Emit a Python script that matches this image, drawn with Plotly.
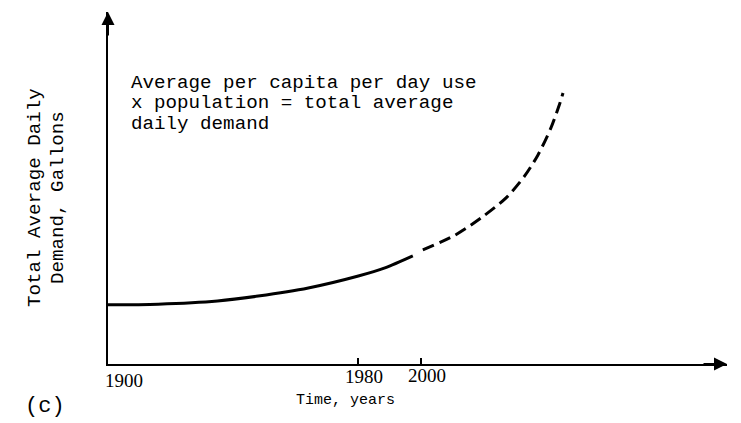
import plotly.graph_objects as go

# ---- data (schematic curve, arbitrary demand units) ----
solid_years = [1900, 1916, 1935, 1948, 1964, 1980, 1988.5, 1997.4]
solid_vals = [16.8, 17.0, 17.9, 19.3, 21.6, 25.0, 27.3, 30.7]
dashed_years = [2000.6, 2010.9, 2019.2, 2027.2, 2033.2, 2037.4, 2041.5, 2044.4, 2045.4]
dashed_vals = [32.4, 36.6, 41.5, 47.2, 53.5, 59.4, 67.0, 74.1, 77.0]
tick_years = [1900, 1980, 2000]
tick_labels = ["1900", "1980", "2000"]

W, H = 741, 423
L, R, T, B = 100, 22, 4, 67
X0, X1 = 1900, 2097.8
Y0, Y1 = 0, 100


def px_x(px):
    return (px - L) / (W - L - R)


def px_y(py):
    return (H - B - py) / (H - T - B)


MONO = "Liberation Mono, Courier New, monospace"
SERIF = "Liberation Serif, Times New Roman, serif"

fig = go.Figure()
fig.add_trace(go.Scatter(x=solid_years, y=solid_vals, mode="lines",
                         line=dict(color="black", width=3, shape="spline", smoothing=0.8),
                         showlegend=False, hoverinfo="skip"))
fig.add_trace(go.Scatter(x=dashed_years, y=dashed_vals, mode="lines",
                         line=dict(color="black", width=3, shape="spline", smoothing=0.8,
                                   dash="12px,6px"),
                         showlegend=False, hoverinfo="skip"))

ann = []
# text block
for i, line in enumerate(["Average per capita per day use",
                          "x population = total average",
                          "daily demand"]):
    ann.append(dict(xref="paper", yref="paper", x=px_x(122), y=px_y(75 + 20.5 * i),
                    xanchor="left", yanchor="middle", showarrow=False, text=line,
                    borderpad=0, font=dict(family=MONO, size=19.2, color="black")))
# y labels
for cx, line in [(27, "Total Average Daily"), (50, "Demand, Gallons")]:
    ann.append(dict(xref="paper", yref="paper", x=px_x(cx), y=px_y(190),
                    xanchor="center", yanchor="middle", showarrow=False, text=line,
                    textangle=-90, font=dict(family=MONO, size=19.2, color="black")))
# tick labels (placed under their ticks, slightly right as in the original)
for yr, lab, dx, cy in zip(tick_years, tick_labels, [16, 6, 6], [372, 368, 367]):
    ann.append(dict(xref="x", yref="paper", x=yr, y=px_y(cy), xshift=dx,
                    xanchor="center", yanchor="middle", showarrow=False, text=lab,
                    font=dict(family=SERIF, size=19, color="black")))
# x title
ann.append(dict(xref="paper", yref="paper", x=px_x(337), y=px_y(392),
                xanchor="center", yanchor="middle", showarrow=False, text="Time, years",
                font=dict(family=MONO, size=15, color="black")))
# (c)
ann.append(dict(xref="paper", yref="paper", x=px_x(37), y=px_y(398),
                xanchor="center", yanchor="middle", showarrow=False, text="(c)",
                font=dict(family=MONO, size=22, color="black")))
# arrowheads
ann.append(dict(xref="x", yref="y", x=X1, y=Y0, ax=-25, ay=0, text="", showarrow=True,
                arrowhead=2, arrowsize=1.3, arrowwidth=2, arrowcolor="black"))
ann.append(dict(xref="x", yref="y", x=X0, y=Y1, ax=0, ay=25, text="", showarrow=True,
                arrowhead=2, arrowsize=1.3, arrowwidth=2, arrowcolor="black"))

fig.update_layout(
    width=W, height=H,
    margin=dict(l=L, r=R, t=T, b=B),
    paper_bgcolor="white", plot_bgcolor="white",
    annotations=ann,
    xaxis=dict(range=[X0, X1], showgrid=False, zeroline=False, showline=True,
               linecolor="black", linewidth=2, tickvals=tick_years[1:],
               ticks="inside", ticklen=6, tickwidth=1.5, tickcolor="black",
               showticklabels=False),
    yaxis=dict(range=[Y0, Y1], showgrid=False, zeroline=False, showline=True,
               linecolor="black", linewidth=2, showticklabels=False, ticks=""),
)
fig.write_html("out.html")
